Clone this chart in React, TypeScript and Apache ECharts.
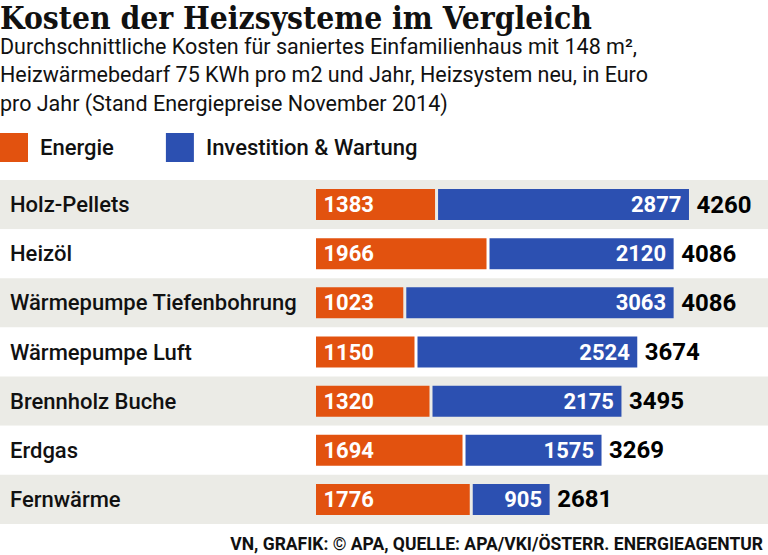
import React, { useEffect, useRef } from "react";
import * as echarts from "echarts";

const TITLE = "Kosten der Heizsysteme im Vergleich";
const SUBTITLE_LINES = [
  "Durchschnittliche Kosten für saniertes Einfamilienhaus mit 148 m²,",
  "Heizwärmebedarf 75 KWh pro m2 und Jahr, Heizsystem neu, in Euro",
  "pro Jahr (Stand Energiepreise November 2014)",
];
const SOURCE = "VN, GRAFIK: © APA, QUELLE: APA/VKI/ÖSTERR. ENERGIEAGENTUR";

const categories = [
  "Holz-Pellets",
  "Heizöl",
  "Wärmepumpe Tiefenbohrung",
  "Wärmepumpe Luft",
  "Brennholz Buche",
  "Erdgas",
  "Fernwärme",
];
const energie = [1383, 1966, 1023, 1150, 1320, 1694, 1776];
const investition = [2877, 2120, 3063, 2524, 2175, 1575, 905];
const gesamt = [4260, 4086, 4086, 3674, 3495, 3269, 2681];

const ORANGE = "#e2520f";
const BLUE = "#2c50b1";
const BAND = "#ebebe6";
const WHITE = "#ffffff";
const INK = "#111111";
const FONT = "Roboto, 'Noto Sans', sans-serif";

const bandColor = (i: number) => (i % 2 === 0 ? BAND : WHITE);

export default function App() {
  const ref = useRef<HTMLDivElement>(null);

  useEffect(() => {
    document.body.style.margin = "0";
    if (!ref.current) return;
    const chart = echarts.init(ref.current, null, { renderer: "svg" });

    const gridTop = 180;
    const gridBottom = 31;

    const option: any = {
      animation: false,
      backgroundColor: "#ffffff",
      grid: [
        { left: 0, right: 0, top: gridTop, bottom: gridBottom },
        { left: 314.5, right: 12.2, top: gridTop, bottom: gridBottom },
      ],
      xAxis: [
        { gridIndex: 0, type: "value", min: 0, max: 1, show: false },
        { gridIndex: 1, type: "value", min: 0, max: 5000, show: false },
      ],
      yAxis: [
        {
          gridIndex: 0,
          type: "category",
          data: categories,
          inverse: true,
          axisLine: { show: false },
          axisTick: { show: false },
          splitLine: { show: false },
          splitArea: { show: true, areaStyle: { color: [BAND, WHITE] } },
          axisLabel: {
            inside: true,
            margin: 10,
            color: INK,
            fontSize: 22,
            fontWeight: 500,
            fontFamily: FONT,
          },
          z: 0,
        },
        {
          gridIndex: 1,
          type: "category",
          data: categories,
          inverse: true,
          show: false,
        },
      ],
      legend: {
        data: ["Energie", "Investition & Wartung"],
        left: 0,
        top: 133,
        padding: 0,
        icon: "rect",
        itemWidth: 28,
        itemHeight: 29,
        itemGap: 52,
        selectedMode: false,
        textStyle: {
          color: INK,
          fontSize: 22,
          fontWeight: 500,
          fontFamily: FONT,
          padding: [0, 0, 0, 7],
        },
      },
      series: [
        {
          name: "Energie",
          type: "bar",
          xAxisIndex: 1,
          yAxisIndex: 1,
          stack: "kosten",
          barWidth: 34,
          itemStyle: { color: ORANGE, borderWidth: 1.5 },
          data: energie.map((v, i) => ({
            value: v,
            itemStyle: { borderColor: bandColor(i) },
          })),
          label: {
            show: true,
            position: "insideLeft",
            distance: 9,
            color: "#ffffff",
            fontSize: 22,
            fontWeight: "bold",
            fontFamily: FONT,
          },
        },
        {
          name: "Investition & Wartung",
          type: "bar",
          xAxisIndex: 1,
          yAxisIndex: 1,
          stack: "kosten",
          barWidth: 34,
          itemStyle: { color: BLUE, borderWidth: 1.5 },
          data: investition.map((v, i) => ({
            value: v,
            itemStyle: { borderColor: bandColor(i) },
          })),
          label: {
            show: true,
            position: "insideRight",
            distance: 9,
            color: "#ffffff",
            fontSize: 22,
            fontWeight: "bold",
            fontFamily: FONT,
          },
        },
        {
          name: "Summe",
          type: "scatter",
          xAxisIndex: 1,
          yAxisIndex: 1,
          symbolSize: 0,
          itemStyle: { opacity: 1 },
          data: gesamt.map((v, i) => [v, categories[i]]),
          label: {
            show: true,
            position: "right",
            distance: 6,
            formatter: (p: any) => String(p.value[0]),
            color: "#000000",
            opacity: 1,
            fontSize: 24,
            fontWeight: "bold",
            fontFamily: FONT,
          },
        },
      ],
      graphic: [
        {
          type: "text",
          x: 0,
          y: 17,
          style: {
            text: TITLE,
            fill: INK,
            font: "bold 31.5px 'DejaVu Serif Condensed', 'DejaVu Serif', serif",
            align: "left",
            verticalAlign: "middle",
          },
        },
        ...SUBTITLE_LINES.map((t, i) => ({
          type: "text",
          x: 0,
          y: 46 + i * 28.7,
          style: {
            text: t,
            fill: INK,
            font: `21.5px ${FONT}`,
            align: "left",
            verticalAlign: "middle",
          },
        })),
        {
          type: "text",
          x: 763,
          y: 544,
          style: {
            text: SOURCE,
            fill: INK,
            font: `bold 17.5px ${FONT}`,
            align: "right",
            verticalAlign: "middle",
          },
        },
      ],
    };

    chart.setOption(option);
    return () => chart.dispose();
  }, []);

  return <div ref={ref} style={{ width: 768, height: 555 }} />;
}
